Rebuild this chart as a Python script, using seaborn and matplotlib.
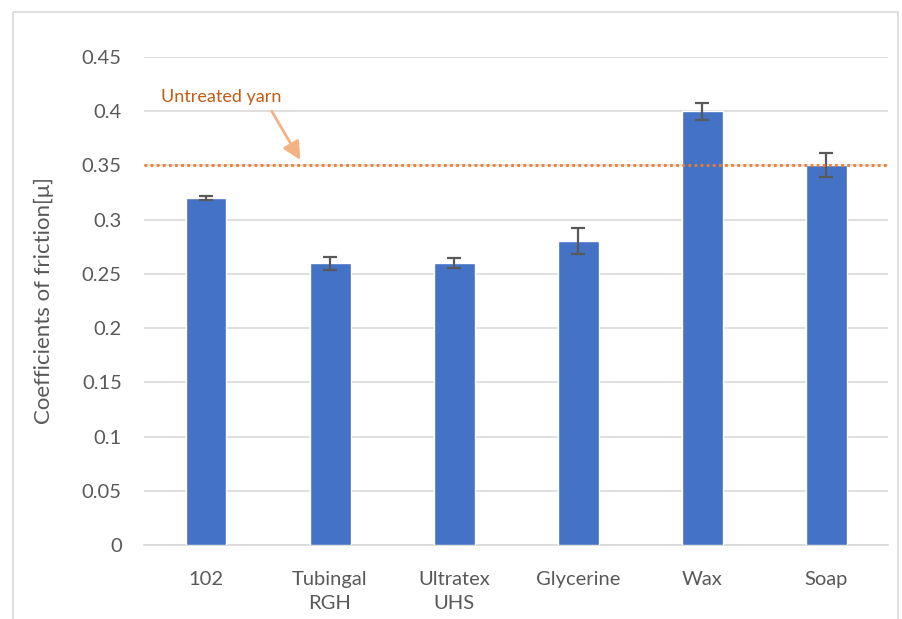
import matplotlib
matplotlib.use("Agg")
import matplotlib.pyplot as plt
import seaborn as sns
import pandas as pd
from matplotlib.patches import Rectangle

# values
treatments = ["102", "Tubingal\nRGH", "Ultratex\nUHS", "Glycerine", "Wax", "Soap"]
friction = [0.32, 0.26, 0.26, 0.28, 0.40, 0.35]
friction_err = [0.002, 0.006, 0.005, 0.012, 0.008, 0.011]
untreated = 0.35
y_ticks = [0, 0.05, 0.1, 0.15, 0.2, 0.25, 0.3, 0.35, 0.4, 0.45]
y_ticklabels = ["0", "0.05", "0.1", "0.15", "0.2", "0.25", "0.3", "0.35", "0.4", "0.45"]

df = pd.DataFrame({"treatment": treatments, "mu": friction})

sns.set_theme(style="white")
plt.rcParams["font.family"] = ["Lato", "DejaVu Sans"]

fig = plt.figure(figsize=(9.03, 6.19), dpi=100)
ax = fig.add_axes([0.1595, 0.1195, 0.824, 0.7885])

sns.barplot(data=df, x="treatment", y="mu", color="#4472C4", saturation=1,
            width=0.33, errorbar=None, ax=ax, zorder=3)

xs = ax.get_xticks()
ax.errorbar(xs, friction, yerr=friction_err, fmt="none", ecolor="#595959",
            elinewidth=1.6, capsize=5, capthick=1.6, zorder=4)

ax.axhline(untreated, color="#ED7D31", linestyle=(0, (1, 1.2)), linewidth=2, zorder=5)
ax.text(-0.36, 0.413, "Untreated yarn", color="#C55A11", fontsize=13, va="center")
ax.annotate("", xy=(0.76, untreated + 0.005), xytext=(0.53, 0.400),
            arrowprops=dict(arrowstyle="-|>,head_length=0.9,head_width=0.45",
                            color="#F4B183", lw=2, shrinkA=0, shrinkB=0))

ax.set_ylim(0, 0.45)
ax.set_xlim(-0.5, len(treatments) - 0.5)
ax.set_yticks(y_ticks)
ax.set_yticklabels(y_ticklabels)
ax.yaxis.grid(True, color="#D9D9D9", linewidth=1.2, zorder=0)
ax.set_axisbelow(True)
for side in ["top", "right", "left"]:
    ax.spines[side].set_visible(False)
ax.spines["bottom"].set_color("#D9D9D9")
ax.spines["bottom"].set_linewidth(1.2)
ax.tick_params(axis="both", length=0, labelsize=14.5, colors="#595959")
ax.tick_params(axis="x", pad=19)
ax.tick_params(axis="y", pad=16)
for lbl in ax.get_xticklabels():
    lbl.set_linespacing(1.45)
ax.set_xlabel("")
ax.set_ylabel("Coefficients of friction[\u03bc]", fontsize=16, color="#595959", labelpad=20)

fig.patches.append(Rectangle((0.0145, -0.05), 0.98, 1.03, transform=fig.transFigure,
                             fill=False, edgecolor="#D9D9D9", linewidth=1.2))

fig.savefig("out.png", dpi=100, facecolor="white")
